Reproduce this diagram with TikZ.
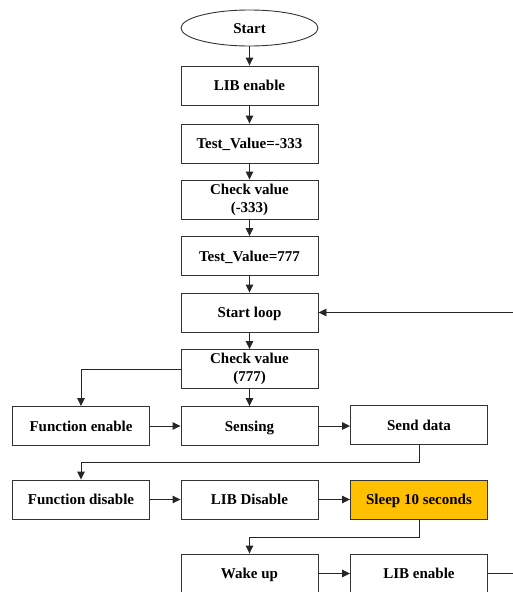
\documentclass[tikz,border=0pt]{standalone}
\usepackage{fontspec}
\setmainfont{Liberation Serif}
\usetikzlibrary{arrows.meta,shapes.geometric}
\definecolor{sleepfill}{HTML}{FFC000}
\tikzset{
  box/.style={draw=black!80, line width=0.9pt, minimum width=137pt, minimum height=39pt, inner sep=1pt,
    align=center, font=\fontsize{15}{18}\selectfont\bfseries},
  one/.style={text height=10pt, text depth=0pt},
  arr/.style={line width=0.9pt, draw=black!85, -{Triangle[length=8pt,width=7.5pt]}},
  ln/.style={line width=0.9pt, draw=black!85}
}
\begin{document}
\begin{tikzpicture}[x=1pt,y=-1pt]
\useasboundingbox (0,0) rectangle (513,592);
\clip (0,0) rectangle (513,592);
\node[box, one, ellipse, minimum width=137pt, minimum height=36pt] (start) at (249.5,28) {Start};
\node[box, one] (lib1) at (249.5,85.5) {LIB enable};
\node[box, one] (tv1) at (249.5,143.5) {Test\_Value=-333};
\node[box] (cv1) at (249.5,199.5) {Check value\\(-333)};
\node[box, one] (tv2) at (249.5,256) {Test\_Value=777};
\node[box, one] (loop) at (249.5,312.5) {Start loop};
\node[box] (cv2) at (249.5,369) {Check value\\(777)};
\node[box, one] (fe) at (81,426) {Function enable};
\node[box, one] (sens) at (249.5,426) {Sensing};
\node[box, one] (send) at (419,425) {Send data};
\node[box, one] (fd) at (81,499.5) {Function disable};
\node[box, one] (libd) at (249.5,499.5) {LIB Disable};
\node[box, one, fill=sleepfill] (sleep) at (419,499.5) {Sleep 10 seconds};
\node[box, one] (wake) at (249.5,573.5) {Wake up};
\node[box, one] (lib2) at (419,573.5) {LIB enable};
\coordinate (rin) at (513,312.5);
\coordinate (rout) at (513,573.5);
\draw[arr] (start) -- (lib1);
\draw[arr] (lib1) -- (tv1);
\draw[arr] (tv1) -- (cv1);
\draw[arr] (cv1) -- (tv2);
\draw[arr] (tv2) -- (loop);
\draw[arr] (loop) -- (cv2);
\draw[arr] (rin) -- (loop);
\draw[arr] (cv2.west) -| (fe.north);
\draw[arr] (cv2) -- (sens);
\draw[arr] (fe) -- (sens);
\draw[arr] (sens.east) -- (send.west |- sens.east);
\draw[arr] (send.south) |- (81,462) -- (fd.north);
\draw[arr] (fd) -- (libd);
\draw[arr] (libd) -- (sleep);
\draw[arr] (sleep.south) |- (249.5,537) -- (wake.north);
\draw[arr] (wake) -- (lib2);
\draw[ln] (lib2) -- (rout);
\end{tikzpicture}
\end{document}
